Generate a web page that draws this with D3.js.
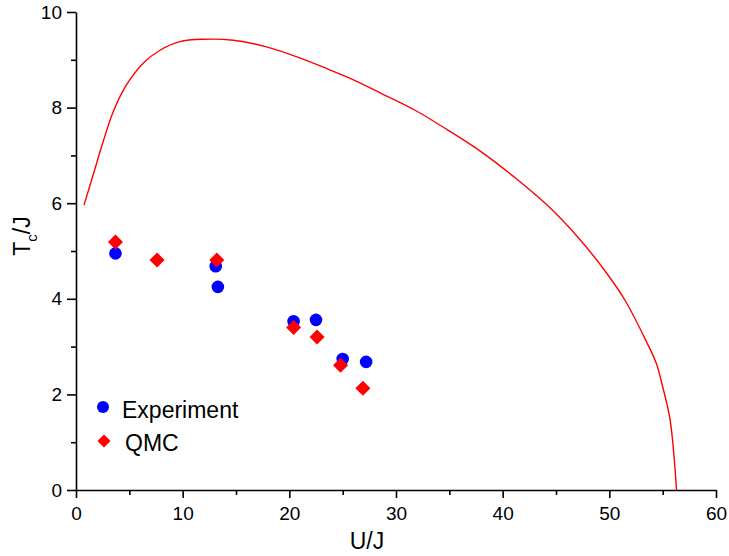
<!DOCTYPE html>
<html><head><meta charset="utf-8">
<script src="https://cdn.jsdelivr.net/npm/d3@7"></script>
<style>body{margin:0;background:#fff}svg{display:block;font-family:"Liberation Sans",Arial,sans-serif}</style>
</head><body><svg id="c" width="729" height="556"></svg>
<script>
const curveU = [0.75,1.62,2.56,3.5,4.74,6.3,7.87,9.74,11.9,14.73,17.86,20.97,23.47,25.5,28.6,31.75,34.86,37.96,41.07,44.17,47.28,49.77,51.47,53.4,54.4,55.0,55.7,56.3];
const curveT = [5.96,6.6,7.3,7.92,8.48,8.93,9.2,9.38,9.43,9.41,9.27,9.04,8.82,8.63,8.30,7.95,7.53,7.08,6.55,5.96,5.23,4.53,3.97,3.14,2.65,2.16,1.46,0.0];
const expU = [3.7,13.1,13.3,20.4,22.5,25.0,27.2];
const expT = [4.95,4.68,4.25,3.53,3.56,2.74,2.68];
const qmcU = [3.7,7.6,13.2,20.4,22.6,24.8,26.9];
const qmcT = [5.19,4.81,4.81,3.40,3.20,2.61,2.13];
const xTicks = [0,10,20,30,40,50,60];
const yTicks = [0,2,4,6,8,10];
const legendLabels = ["Experiment","QMC"];

const svg = d3.select("#c");
const x = d3.scaleLinear().domain([0,60]).range([76,716]);
const y = d3.scaleLinear().domain([0,10]).range([490,12]);

const gx = svg.append("g").attr("transform","translate(0,490)");
gx.call(d3.axisBottom(x).tickValues(d3.range(5,60,10)).tickSize(5).tickFormat(""));
gx.call(g=>g.select(".domain").remove());
const gx2 = svg.append("g").attr("transform","translate(0,490)");
gx2.call(d3.axisBottom(x).tickValues(xTicks).tickSize(8).tickSizeOuter(0).tickPadding(9).tickFormat(d3.format("d")));
const gy = svg.append("g").attr("transform","translate(76,0)");
gy.call(d3.axisLeft(y).tickValues(d3.range(1,10,2)).tickSize(5).tickFormat(""));
gy.call(g=>g.select(".domain").remove());
const gy2 = svg.append("g").attr("transform","translate(76,0)");
gy2.call(d3.axisLeft(y).tickValues(yTicks).tickSize(9).tickSizeOuter(0).tickPadding(5).tickFormat(d3.format("d")));
svg.selectAll(".tick line, .domain").attr("stroke","#000").attr("stroke-width",1.6);
svg.selectAll(".tick text").attr("font-size",19).attr("fill","#000").attr("font-family","Liberation Sans, Arial, sans-serif");

const pts = curveU.map((u,i)=>[u,curveT[i]]);
svg.append("path").datum(pts)
  .attr("d", d3.line().x(d=>x(d[0])).y(d=>y(d[1])).curve(d3.curveCatmullRom.alpha(0.5)))
  .attr("fill","none").attr("stroke","#ff0000").attr("stroke-width",1.4);

svg.append("g").selectAll("circle").data(expU.map((u,i)=>[u,expT[i]])).join("circle")
  .attr("cx",d=>x(d[0])).attr("cy",d=>y(d[1])).attr("r",6.3).attr("fill","#0000ff");
const diamond = d3.symbol().type(d3.symbolDiamond2).size(145);
svg.append("g").selectAll("path").data(qmcU.map((u,i)=>[u,qmcT[i]])).join("path")
  .attr("d",diamond).attr("transform",d=>`translate(${x(d[0])},${y(d[1])})`).attr("fill","#ff0000");

svg.append("circle").attr("cx",103).attr("cy",407).attr("r",6).attr("fill","#0000ff");
svg.append("path").attr("d",d3.symbol().type(d3.symbolDiamond2).size(110)).attr("transform","translate(104,441)").attr("fill","#ff0000");
svg.append("text").attr("x",122).attr("y",418).attr("font-size",23).text(legendLabels[0]);
svg.append("text").attr("x",125).attr("y",451).attr("font-size",23).text(legendLabels[1]);

svg.append("text").attr("x",367).attr("y",549).attr("text-anchor","middle").attr("font-size",23).text("U/J");
const yl = svg.append("text").attr("transform","translate(30,236) rotate(-90)").attr("text-anchor","middle").attr("font-size",23);
yl.append("tspan").text("T");
yl.append("tspan").attr("font-size",15).attr("dy",7).text("c");
yl.append("tspan").attr("dy",-7).text("/J");
</script></body></html>
